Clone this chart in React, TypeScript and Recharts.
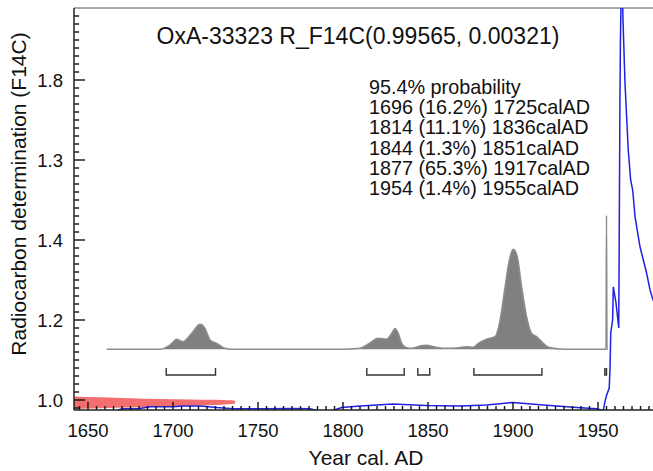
import React from 'react';
import { ComposedChart, XAxis, YAxis, Line, Area, ReferenceLine } from 'recharts';

const FONT = '"Liberation Sans", Arial, Helvetica, sans-serif';

// ---- texts ----
const chartTitle = 'OxA-33323 R_F14C(0.99565, 0.00321)';
const probHeader = '95.4% probability';
const rangeTexts = [
  '1696 (16.2%) 1725calAD',
  '1814 (11.1%) 1836calAD',
  '1844 (1.3%) 1851calAD',
  '1877 (65.3%) 1917calAD',
  '1954 (1.4%) 1955calAD',
];
const xAxisTitle = 'Year cal. AD';
const yAxisTitle = 'Radiocarbon determination (F14C)';

// ---- ranges (95.4%) ----
const rangeFrom = [1696, 1814, 1844, 1877, 1954];
const rangeTo = [1725, 1836, 1851, 1917, 1955];

// ---- ticks ----
const xMajorTicks = [1650, 1700, 1750, 1800, 1850, 1900, 1950];
const xMinorTicks: number[] = [];
for (let v = 1645; v <= 1980; v += 5) xMinorTicks.push(v);
const yMajorTicks = [1.0, 1.2, 1.4, 1.6, 1.8];
const yTickLabels = ['1.0', '1.2', '1.4', '1.3', '1.8'];
const yMinorTicks: number[] = [];
for (let i = 49; i <= 98; i++) yMinorTicks.push(i / 50);

// ---- calibration curve (blue) ----
const calYears = [1662.9, 1666.5, 1669.8, 1679.6, 1686.5, 1700.2, 1706.1, 1715.9, 1725.7, 1735.3, 1751.2, 1770.8, 1780.6, 1785.5, 1793.4, 1799.2, 1810, 1829.6, 1835.5, 1849.2, 1868.8, 1884.5, 1899.8, 1917.8, 1937.5, 1949.2, 1953.1, 1954.1, 1955.1, 1956.6, 1957.1, 1957.5, 1958.6, 1959, 1960.6, 1962.2, 1962.5, 1962.9, 1963.2, 1963.9, 1964.7, 1965.9, 1967.8, 1969.2, 1970.4, 1971.8, 1974.7, 1978.6, 1980.6, 1982.4, 1984];
const calF14C = [0.973, 0.973, 0.978, 0.978, 0.983, 0.983, 0.985, 0.985, 0.981, 0.978, 0.978, 0.979, 0.978, 0.973, 0.973, 0.981, 0.985, 0.99, 0.989, 0.986, 0.985, 0.9875, 0.994, 0.9875, 0.981, 0.978, 0.974, 0.996, 1.0125, 1.03, 1.083, 1.1675, 1.2, 1.283, 1.2425, 1.18, 1.4175, 1.75, 1.9, 2.1, 1.95, 1.79, 1.625, 1.55, 1.525, 1.458, 1.383, 1.317, 1.275, 1.25, 1.23];

// ---- calibrated probability (gray, relative density) ----
const probYears = [1661, 1692, 1698.2, 1702.2, 1705.7, 1711, 1715.9, 1718.8, 1721.8, 1725.7, 1730.6, 1735.3, 1798, 1810, 1814.9, 1820.8, 1825.7, 1828.6, 1830.6, 1832.5, 1834.5, 1837.5, 1840.4, 1845.3, 1849.2, 1854.1, 1859, 1866.9, 1872.8, 1876.6, 1879.6, 1884.5, 1889.4, 1892.4, 1895.3, 1897.8, 1900.2, 1902.5, 1905.1, 1908, 1911, 1913.9, 1916.9, 1920.8, 1927.6, 1935.5, 1954.7, 1955.0, 1955.3, 1955.8];
const probDensity = [0, 0, 0.043, 0.1, 0.076, 0.16, 0.25, 0.21, 0.093, 0.06, 0.01, 0, 0, 0.01, 0.053, 0.11, 0.102, 0.159, 0.209, 0.159, 0.06, 0.016, 0.01, 0.033, 0.04, 0.023, 0.01, 0.013, 0.026, 0.02, 0.06, 0.102, 0.126, 0.29, 0.62, 0.89, 1.0, 0.926, 0.62, 0.325, 0.159, 0.126, 0.076, 0.02, 0.003, 0, 0, 1.34, 0, 0];

// ---- measurement (red, sideways normal) ----
const measYears = [1641, 1657.1, 1674.7, 1692.4, 1710, 1724.7, 1732.4, 1735.9, 1736.6];
const measLow = [0.9775, 0.9795, 0.981, 0.9833, 0.9855, 0.9875, 0.9895, 0.9905, 0.993];
const measHigh = [1.00875, 1.0066, 1.0046, 1.0028, 1.0015, 1.0005, 0.9995, 0.999, 0.9965];

// ---- tables ----
const calData = calYears.map((x, i) => ({ x, y: calF14C[i] }));
const probData = probYears.map((x, i) => ({ x, p: probDensity[i] }));
const measData = measYears.map((x, i) => ({ x, r: [measLow[i], measHigh[i]] }));
const bracketTop = 1.08;
const bracketBottom = 1.0625;
const bracketData = rangeFrom.map((a, i) => [
  { x: a, y: bracketTop },
  { x: a, y: bracketBottom },
  { x: rangeTo[i], y: bracketBottom },
  { x: rangeTo[i], y: bracketTop },
]);

const AX = '#111';
const X_DOMAIN: [number, number] = [1641.76, 1982.35];
const Y_DOMAIN: [number, number] = [0.975, 1.98];
const tickFont = { fontSize: 18.5, fill: '#111', fontFamily: FONT };

const isYMajor = (v: number) => yMajorTicks.some((m) => Math.abs(m - v) < 1e-6);
const yLabel = (v: number) => {
  const idx = yMajorTicks.findIndex((m) => Math.abs(m - v) < 1e-6);
  return idx >= 0 ? yTickLabels[idx] : '';
};

// inward tick marks along the bottom, drawn through the axis scales
const xTickData = xMinorTicks.map((v) => [
  { x: v, y: Y_DOMAIN[0] },
  { x: v, y: Y_DOMAIN[0] + (xMajorTicks.includes(v) ? 0.02 : 0.01) },
]);
// inward tick marks along the left side
const yTickData = yMinorTicks.map((v) => [
  { x: X_DOMAIN[0] + 0.05, y: v },
  { x: X_DOMAIN[0] + (isYMajor(v) ? 6.5 : 3.0), y: v },
]);

const W = 653;
const H = 471;
const MARGIN = { top: 8, right: 0, bottom: 0, left: 0 };

export default function App() {
  return (
    <div style={{ position: 'absolute', left: 0, top: 0, width: W, height: H, overflow: 'hidden', background: '#fff' }}>
      <ComposedChart width={W} height={H} margin={MARGIN}>
        {/* mirrored, zero-width axes that only draw inward tick marks */}
        <YAxis
          yAxisId="yminor"
          orientation="left"
          mirror
          type="number"
          domain={Y_DOMAIN}
          allowDataOverflow
          ticks={yMinorTicks}
          interval={0}
          tick={false}
          tickSize={5}
          tickLine={{ stroke: AX, strokeWidth: 1.3 }}
          axisLine={false}
          width={0}
        />
        <YAxis
          yAxisId="ymajor"
          orientation="left"
          mirror
          type="number"
          domain={Y_DOMAIN}
          allowDataOverflow
          ticks={yMajorTicks}
          interval={0}
          tick={false}
          tickSize={11}
          tickLine={{ stroke: AX, strokeWidth: 1.3 }}
          axisLine={false}
          width={0}
        />
        <XAxis
          dataKey="x"
          type="number"
          domain={X_DOMAIN}
          allowDataOverflow
          ticks={xMajorTicks}
          interval={0}
          tick={tickFont}
          tickSize={0}
          tickMargin={14}
          tickLine={false}
          axisLine={{ stroke: '#222', strokeWidth: 1.5 }}
          height={61}
        />
        <YAxis
          type="number"
          domain={Y_DOMAIN}
          allowDataOverflow
          ticks={yMajorTicks}
          interval={0}
          tick={tickFont}
          tickFormatter={yLabel}
          tickSize={0}
          tickMargin={11}
          tickLine={false}
          axisLine={{ stroke: '#222', strokeWidth: 1.5 }}
          width={74}
        />
        <YAxis yAxisId="prob" type="number" domain={[-0.607, 3.413]} allowDataOverflow hide />
        <ReferenceLine y={Y_DOMAIN[1]} stroke="#555" strokeWidth={1} ifOverflow="visible" />
        <Area
          yAxisId="prob"
          data={probData}
          dataKey="p"
          type="monotone"
          baseValue={0}
          stroke="#8c8c8c"
          strokeWidth={1.5}
          fill="#808080"
          fillOpacity={1}
          dot={false}
          activeDot={false}
          isAnimationActive={false}
        />
        <Area
          data={measData}
          dataKey="r"
          type="monotone"
          stroke="none"
          fill="#f26262"
          fillOpacity={0.92}
          dot={false}
          activeDot={false}
          isAnimationActive={false}
        />
        <Line
          data={calData}
          dataKey="y"
          type="linear"
          stroke="#2020e0"
          strokeWidth={1.5}
          dot={false}
          activeDot={false}
          isAnimationActive={false}
        />
        {bracketData.map((d, i) => (
          <Line
            key={'b' + i}
            data={d}
            dataKey="y"
            type="linear"
            stroke="#333"
            strokeWidth={1.4}
            dot={false}
            activeDot={false}
            isAnimationActive={false}
          />
        ))}
        {xTickData.map((d, i) => (
          <Line
            key={'xt' + i}
            data={d}
            dataKey="y"
            type="linear"
            stroke={AX}
            strokeWidth={1.4}
            dot={false}
            activeDot={false}
            isAnimationActive={false}
          />
        ))}
        {yTickData.map((d, i) => (
          <Line
            key={'yt' + i}
            data={d}
            dataKey="y"
            type="linear"
            stroke={AX}
            strokeWidth={1.4}
            dot={false}
            activeDot={false}
            isAnimationActive={false}
          />
        ))}
      </ComposedChart>
      <svg width={W} height={H} style={{ position: 'absolute', left: 0, top: 0, pointerEvents: 'none' }}>
        <text x={358} y={44} textAnchor="middle" fontSize={23} fontFamily={FONT} fill="#111">
          {chartTitle}
        </text>
        <text x={369} y={93.5} fontSize={19.8} fontFamily={FONT} fill="#111">
          {probHeader}
        </text>
        {rangeTexts.map((t, i) => (
          <text key={i} x={369} y={114 + i * 20.3} fontSize={19.8} fontFamily={FONT} fill="#111">
            {t}
          </text>
        ))}
        <text x={366} y={465} textAnchor="middle" fontSize={21} fontFamily={FONT} fill="#111">
          {xAxisTitle}
        </text>
        <text transform="translate(26,194) rotate(-90)" textAnchor="middle" fontSize={21} fontFamily={FONT} fill="#111">
          {yAxisTitle}
        </text>
      </svg>
    </div>
  );
}
